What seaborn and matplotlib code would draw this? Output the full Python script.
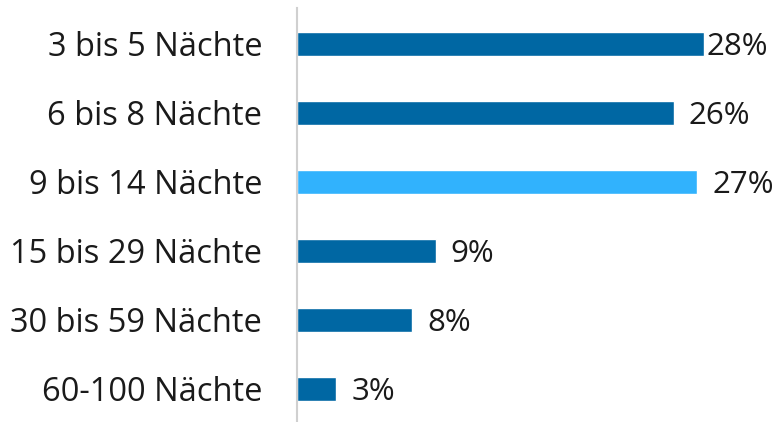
import matplotlib
matplotlib.use("Agg")
import matplotlib.pyplot as plt
import seaborn as sns
import pandas as pd

# Aufenthaltsdauer
categories = ["3 bis 5 Nächte", "6 bis 8 Nächte", "9 bis 14 Nächte",
              "15 bis 29 Nächte", "30 bis 59 Nächte", "60-100 Nächte"]
shares = [27.9, 25.8, 27.4, 9.5, 7.9, 2.7]
labels = ["28%", "26%", "27%", "9%", "8%", "3%"]
highlight = "9 bis 14 Nächte"

df = pd.DataFrame({"Dauer": categories, "Anteil": shares})
palette = {c: ("#31B2FD" if c == highlight else "#0067A3") for c in categories}

sns.set_style("white")
plt.rcParams["font.family"] = ["Open Sans", "DejaVu Sans"]

fig = plt.figure(figsize=(7.78, 4.22), dpi=100)
ax = fig.add_axes([297 / 778, 0, (760 - 297) / 778, 1 - 8 / 422])

sns.barplot(data=df, x="Anteil", y="Dauer", hue="Dauer", palette=palette,
            order=categories, width=0.35, legend=False, ax=ax, saturation=1)

# value labels (first one sits right at the bar end, as in the original)
for i, (val, lab) in enumerate(zip(shares, labels)):
    pad = 2 if i == 0 else 15
    ax.annotate(lab, (val, i), xytext=(pad, 0), textcoords="offset pixels",
                va="center_baseline", ha="left", fontsize=22.5, color="#1a1a1a")

ax.set_xlim(0, 31.7)
ax.set_ylim(5.48, -0.52)
ax.set_xlabel("")
ax.set_ylabel("")
ax.set_xticks([])
ax.tick_params(axis="y", length=0, pad=25, labelsize=23.5, labelcolor="#1a1a1a")
for side in ["top", "right", "bottom"]:
    ax.spines[side].set_visible(False)
ax.spines["left"].set_color("#d0d0d0")
ax.spines["left"].set_linewidth(1.5)

fig.savefig("out.png", dpi=100)
